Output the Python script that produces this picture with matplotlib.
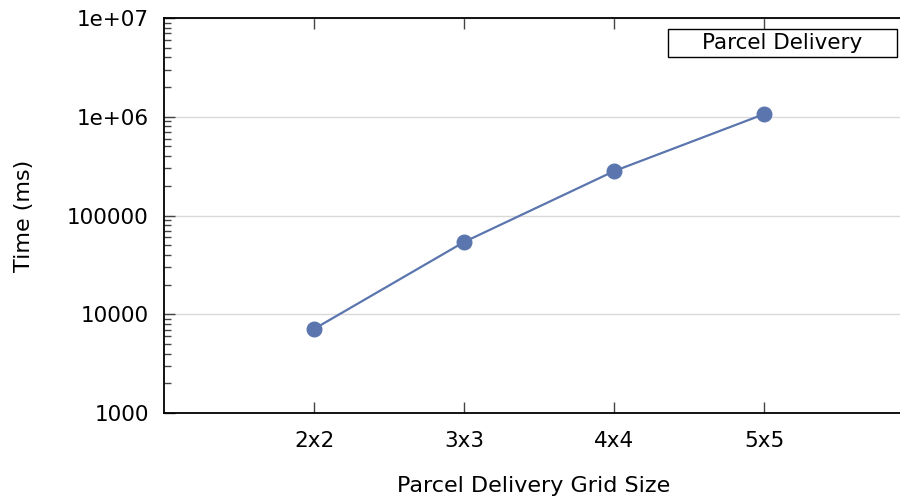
import numpy as np
import matplotlib.pyplot as plt
from matplotlib.patches import Rectangle
from matplotlib.ticker import LogLocator, FixedLocator

# Data
grid_sizes = ["2x2", "3x3", "4x4", "5x5"]
time_ms = [7100, 54000, 282000, 1066000]
y_ticks = [1000, 10000, 100000, 1000000, 10000000]
y_labels = ["1000", "10000", "100000", "1e+06", "1e+07"]
series_name = "Parcel Delivery"

plt.rcParams['font.family'] = ['DejaVu Sans']

fig = plt.figure(figsize=(9, 4.97), dpi=100)
ax = fig.add_axes([164 / 900, 1 - 413 / 497, 740 / 900, 395 / 497])

xs = np.arange(len(grid_sizes))
ax.plot(xs, time_ms, color="#5b76ae", lw=1.6, marker="o", ms=10.5, zorder=3)

ax.set_yscale("log")
ax.set_ylim(1000, 1e7)
ax.set_xlim(-1, 3.93)
ax.yaxis.set_major_locator(FixedLocator(y_ticks))
ax.set_yticklabels(y_labels)
ax.yaxis.set_minor_locator(LogLocator(base=10, subs=np.arange(2, 10)))
ax.yaxis.set_minor_formatter(plt.NullFormatter())
ax.set_xticks(xs)
ax.set_xticklabels(grid_sizes)

ax.grid(axis="y", which="major", color="#d9d9d9", lw=1)
ax.set_axisbelow(True)

ax.tick_params(axis="both", which="major", direction="in", length=8,
               width=1, labelsize=15.5, color="#444444")
ax.tick_params(axis="y", which="major", pad=11)
ax.tick_params(axis="x", which="major", pad=13, top=True)
ax.tick_params(axis="y", which="minor", direction="in", length=5,
               width=1, color="#444444")
for s in ax.spines.values():
    s.set_linewidth(1.3)
ax.spines["right"].set_visible(False)

ax.set_xlabel("Parcel Delivery Grid Size", fontsize=16, labelpad=18)
ax.set_ylabel("Time (ms)", fontsize=16, labelpad=24)

# legend box (text only, no marker)
ax.add_patch(Rectangle((0.681, 0.901), 0.309, 0.071, transform=ax.transAxes,
                       facecolor="white", edgecolor="black", lw=1, zorder=5))
ax.text(0.8355, 0.9365, series_name, transform=ax.transAxes, fontsize=15.5,
        ha="center", va="center", zorder=6)

fig.savefig("out.png", dpi=100)
